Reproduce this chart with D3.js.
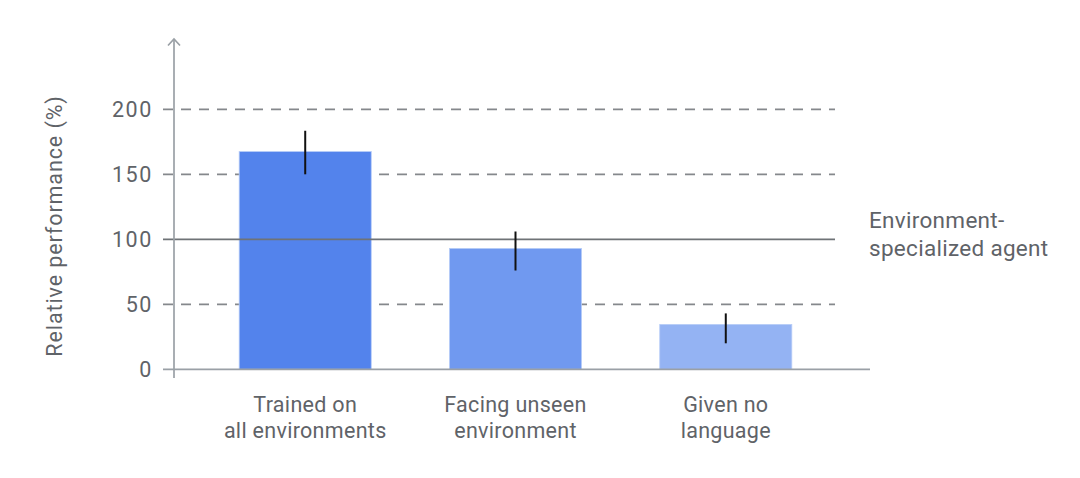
<!DOCTYPE html>
<html>
<head>
<meta charset="utf-8">
<script src="https://cdn.jsdelivr.net/npm/d3@7"></script>
<style>
  html, body { margin: 0; padding: 0; background: #fff; }
  svg { display: block; font-family: Roboto, "Open Sans", sans-serif; }
</style>
</head>
<body>
<svg id="chart" width="1080" height="478"></svg>
<script>
const categories = [["Trained on", "all environments"], ["Facing unseen", "environment"], ["Given no", "language"]];
const values = [167.5, 93, 34.5];
const errLow = [150, 76, 20];
const errHigh = [183.5, 106, 43];
const barColors = ["#5383ec", "#7099f0", "#94b3f3"];
const yTicks = [0, 50, 100, 150, 200];
const referenceValue = 100;
const referenceLabel = ["Environment-", "specialized agent"];
const yLabel = "Relative performance (%)";

const svg = d3.select("#chart");
const textColor = "#5f6368";
const axisColor = "#9aa0a6";

const y = d3.scaleLinear().domain([0, 200]).range([369.3, 109.3]);
const x = d3.scaleBand().domain(d3.range(categories.length)).range([174, 857])
  .paddingInner(0.372).paddingOuter(0.31);

// dashed gridlines
svg.append("g").selectAll("line").data(yTicks.filter(d => d !== 0 && d !== referenceValue))
  .join("line")
  .attr("x1", 163).attr("x2", 835)
  .attr("y1", d => y(d)).attr("y2", d => y(d))
  .attr("stroke", "#85888c").attr("stroke-width", 1.8)
  .attr("stroke-dasharray", "10,8");

// bars
svg.append("g").selectAll("rect").data(values).join("rect")
  .attr("x", (d, i) => x(i)).attr("width", x.bandwidth())
  .attr("y", d => y(d)).attr("height", d => y(0) - y(d))
  .attr("fill", (d, i) => barColors[i])
  .attr("stroke", "#b6ccf7").attr("stroke-width", 0.8);

// reference line
svg.append("line")
  .attr("x1", 163).attr("x2", 835)
  .attr("y1", y(referenceValue)).attr("y2", y(referenceValue))
  .attr("stroke", "#6f7377").attr("stroke-width", 1.7);

// error bars
svg.append("g").selectAll("line").data(values).join("line")
  .attr("x1", (d, i) => x(i) + x.bandwidth() / 2)
  .attr("x2", (d, i) => x(i) + x.bandwidth() / 2)
  .attr("y1", (d, i) => y(errLow[i])).attr("y2", (d, i) => y(errHigh[i]))
  .attr("stroke", "#111").attr("stroke-width", 2);

// y axis line with arrow
const axX = 174;
svg.append("line").attr("x1", axX).attr("x2", axX).attr("y1", 39).attr("y2", 378)
  .attr("stroke", axisColor).attr("stroke-width", 1.7);
svg.append("path")
  .attr("d", `M${axX - 6},${45.5} L${axX},${39} L${axX + 6},${45.5}`)
  .attr("fill", "none").attr("stroke", axisColor).attr("stroke-width", 1.7);

// x axis line
svg.append("line").attr("x1", 163).attr("x2", 870).attr("y1", y(0)).attr("y2", y(0))
  .attr("stroke", axisColor).attr("stroke-width", 1.7);

// y tick labels
svg.append("g").selectAll("text").data(yTicks).join("text")
  .attr("x", 153).attr("y", d => y(d))
  .attr("dy", "0.36em")
  .attr("text-anchor", "end")
  .attr("fill", textColor).attr("font-size", 21.5)
  .attr("letter-spacing", 1.6)
  .text(d => d);

// y label
svg.append("text")
  .attr("transform", `translate(62,226) rotate(-90)`)
  .attr("text-anchor", "middle")
  .attr("fill", textColor).attr("font-size", 21.5)
  .attr("letter-spacing", 0.9)
  .text(yLabel);

// category labels
const catG = svg.append("g").selectAll("text").data(categories).join("text")
  .attr("text-anchor", "middle")
  .attr("fill", textColor).attr("font-size", 21.5)
  .attr("letter-spacing", 0.3);
catG.selectAll("tspan").data((d, i) => d.map(t => ({ t, i }))).join("tspan")
  .attr("x", d => x(d.i) + x.bandwidth() / 2)
  .attr("y", (d, j) => 411.5 + j * 26.5)
  .text(d => d.t);

// reference label
svg.append("text")
  .attr("fill", textColor).attr("font-size", 22.5)
  .attr("letter-spacing", 0.3)
  .selectAll("tspan").data(referenceLabel).join("tspan")
  .attr("x", 869).attr("y", (d, j) => 228 + j * 28)
  .text(d => d);
</script>
</body>
</html>
